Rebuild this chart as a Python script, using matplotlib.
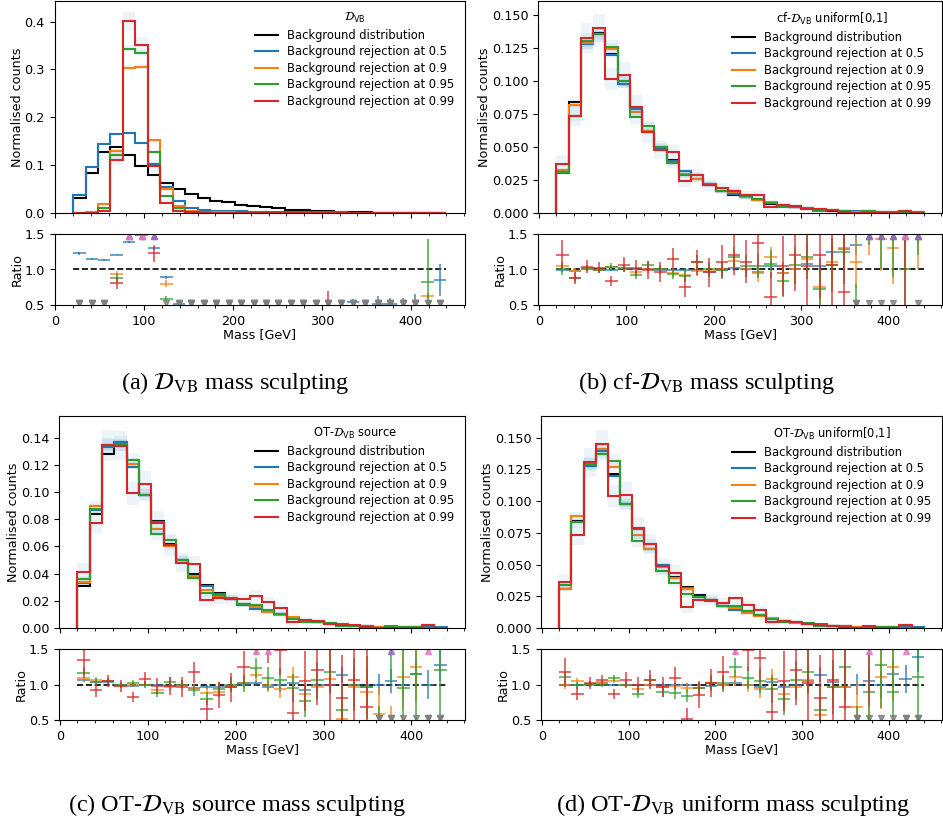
import numpy as np
import matplotlib.pyplot as plt
from matplotlib.ticker import MultipleLocator

plt.rcParams['font.size'] = 9.2

# 30 mass bins of 14 GeV
bins = np.arange(20, 441, 14)
centres = 0.5 * (bins[:-1] + bins[1:])

# normalised background mass distribution (same sample in every panel)
bkg = [0.031, 0.084, 0.128, 0.137, 0.121, 0.098, 0.079, 0.062, 0.050, 0.040,
       0.032, 0.026, 0.022, 0.017, 0.014, 0.012, 0.010, 0.0072, 0.0055, 0.0042,
       0.0032, 0.0025, 0.0018, 0.0013, 0.0010, 0.0008, 0.0006, 0.0005, 0.0004, 0.0003]

levels = [0.5, 0.9, 0.95, 0.99]
colors = ['C0', 'C1', 'C2', 'C3']
up_colors = ['C4', 'C4', 'C4', 'C6']

# ratio (selected / background) per bin, D_VB
vb_r50 = [1.23, 1.15, 1.13, 1.21, 1.39, 1.49, 1.30, 0.89, 0.52, 0.25, 0.17, 0.17, 0.18, 0.20, 0.22,
          0.24, 0.26, 0.30, 0.30, 0.33, 0.38, 0.42, 0.54, 0.45, 0.52, 0.52, 0.49, 0.48, 0.40, 0.85]
vb_r90 = [0.03, 0.03, 0.15, 0.94, 2.51, 3.12, 1.92, 0.80, 0.28, 0.10, 0.06, 0.05, 0.05, 0.05, 0.05,
          0.06, 0.06, 0.07, 0.07, 0.08, 0.09, 0.10, 0.12, 0.15, 0.20, 0.22, 0.25, 0.30, 0.62, 0.45]
vb_r95 = [0.0, 0.01, 0.085, 0.88, 2.84, 3.41, 1.61, 0.58, 0.22, 0.075, 0.04, 0.03, 0.03, 0.03, 0.03,
          0.03, 0.03, 0.03, 0.04, 0.04, 0.04, 0.05, 0.05, 0.06, 0.07, 0.08, 0.10, 0.10, 0.83, 0.10]
vb_r99 = [0.0, 0.0, 0.04, 0.81, 3.31, 3.59, 1.23, 0.35, 0.10, 0.05, 0.02, 0.02, 0.02, 0.02, 0.02,
          0.02, 0.02, 0.02, 0.02, 0.02, 0.25, 0.02, 0.02, 0.02, 0.02, 0.02, 0.02, 0.02, 0.02, 0.0]

vb_e50 = [0.02, 0.015, 0.012, 0.012, 0.012, 0.015, 0.02, 0.02, 0.02, 0.02, 0.02, 0.02, 0.02, 0.025, 0.03,
          0.03, 0.035, 0.04, 0.04, 0.05, 0.05, 0.06, 0.04, 0.06, 0.11, 0.08, 0.11, 0.17, 0.08, 0.23]
vb_e90 = [0.02, 0.02, 0.03, 0.04, 0.04, 0.05, 0.05, 0.05, 0.03, 0.02, 0.02, 0.02, 0.02, 0.02, 0.02,
          0.02, 0.02, 0.03, 0.03, 0.03, 0.04, 0.04, 0.05, 0.06, 0.07, 0.08, 0.10, 0.10, 0.05, 0.12]
vb_e95 = [0.01, 0.01, 0.03, 0.05, 0.06, 0.07, 0.06, 0.04, 0.03, 0.02, 0.02, 0.02, 0.02, 0.02, 0.02,
          0.02, 0.02, 0.02, 0.02, 0.02, 0.02, 0.02, 0.02, 0.03, 0.03, 0.03, 0.04, 0.04, 0.60, 0.05]
vb_e99 = [0.01, 0.01, 0.03, 0.08, 0.16, 0.17, 0.12, 0.08, 0.05, 0.03, 0.02, 0.02, 0.02, 0.02, 0.02,
          0.02, 0.02, 0.02, 0.02, 0.02, 0.45, 0.02, 0.02, 0.02, 0.02, 0.02, 0.02, 0.02, 0.02, 0.01]

# cf-D_VB uniform[0,1]
cf_r50 = [0.99, 0.98, 1.00, 0.99, 0.99, 1.00, 1.00, 1.00, 0.99, 0.99, 0.99, 0.99, 0.97, 0.99, 1.02,
          1.00, 0.96, 1.05, 0.95, 1.00, 1.08, 1.05, 1.25, 1.29, 1.35, 1.60, 1.60, 1.60, 1.55, 1.60]
cf_r90 = [1.05, 0.98, 1.01, 0.99, 1.03, 1.02, 0.97, 1.00, 1.00, 0.95, 0.92, 0.98, 0.98, 1.00, 1.12,
          1.00, 0.95, 1.18, 0.95, 1.00, 1.15, 0.76, 1.11, 1.30, 1.10, 1.60, 1.43, 1.30, 1.60, 1.60]
cf_r95 = [1.00, 0.88, 1.02, 0.99, 1.04, 1.02, 0.92, 1.06, 1.00, 0.94, 0.91, 1.10, 1.00, 0.99, 1.18,
          1.05, 1.05, 1.08, 0.84, 1.06, 1.17, 0.73, 1.07, 1.24, 0.30, 1.90, 1.60, 1.60, 1.00, 2.00]
cf_r99 = [1.21, 0.88, 1.04, 1.025, 0.84, 1.07, 1.02, 0.99, 0.96, 1.15, 0.76, 1.10, 0.96, 1.11, 1.20,
          1.11, 1.37, 0.61, 1.05, 1.20, 1.05, 1.20, 1.07, 0.69, 0.0, 0.0, 0.0, 0.0, 4.50, 0.0]

# OT-D_VB source
ots_r50 = [1.06, 1.03, 1.04, 1.00, 0.98, 1.00, 0.99, 0.98, 1.00, 0.95, 0.97, 0.96, 0.96, 1.00, 1.02,
           0.96, 1.00, 1.02, 0.92, 1.00, 1.00, 1.13, 1.00, 0.97, 1.00, 1.05, 1.00, 1.15, 1.00, 1.27]
ots_r90 = [1.09, 1.07, 1.05, 0.98, 1.00, 1.00, 0.92, 0.97, 1.00, 0.95, 0.88, 0.90, 0.98, 1.02, 1.13,
           1.00, 0.93, 1.11, 0.86, 0.97, 1.08, 0.52, 0.96, 0.90, 0.59, 0.30, 1.11, 1.25, 0.0, 0.0]
ots_r95 = [1.165, 1.04, 1.05, 0.99, 1.02, 1.00, 0.88, 1.04, 1.00, 0.92, 0.80, 0.93, 1.00, 1.02, 1.23,
           1.09, 1.06, 0.95, 0.77, 1.06, 1.18, 0.64, 1.00, 0.96, 0.20, 1.60, 0.95, 1.15, 0.0, 1.21]
ots_r99 = [1.34, 0.92, 1.05, 0.98, 0.82, 1.08, 0.98, 0.98, 0.96, 1.17, 0.65, 0.85, 0.96, 1.24, 1.70,
           1.60, 1.49, 0.60, 1.05, 1.21, 1.00, 0.81, 1.07, 0.69, 0.0, 0.0, 0.0, 0.0, 5.50, 0.0]

# OT-D_VB uniform[0,1]
otu_r50 = [1.00, 0.99, 1.00, 1.02, 0.99, 1.00, 0.99, 1.00, 1.00, 0.99, 0.99, 0.95, 0.98, 1.00, 1.02,
           1.00, 0.96, 1.04, 0.96, 1.00, 1.05, 1.14, 1.03, 0.96, 1.00, 1.05, 1.00, 1.15, 1.08, 1.39]
otu_r90 = [1.00, 1.05, 1.01, 1.03, 1.05, 1.00, 0.93, 1.00, 0.96, 0.98, 0.95, 0.95, 1.02, 1.00, 1.10,
           1.00, 0.93, 1.08, 0.86, 0.97, 1.07, 0.57, 0.96, 0.96, 0.68, 0.30, 1.11, 1.25, 0.0, 0.0]
otu_r95 = [1.10, 0.99, 1.01, 1.00, 1.09, 1.00, 0.87, 1.07, 0.90, 0.88, 0.84, 0.95, 1.02, 1.02, 1.24,
           1.09, 1.05, 0.94, 0.80, 1.07, 1.18, 0.64, 0.97, 1.24, 0.20, 0.90, 1.27, 0.90, 0.0, 1.10]
otu_r99 = [1.17, 0.87, 1.02, 1.06, 0.86, 1.07, 1.00, 1.07, 0.97, 1.09, 0.52, 0.85, 1.02, 1.17, 1.70,
           1.49, 1.38, 0.61, 1.05, 1.21, 1.02, 0.81, 1.06, 0.69, 0.0, 1.70, 0.0, 0.0, 5.50, 0.0]

# ratio uncertainties for the decorrelated taggers
err50 = [0.03, 0.02, 0.015, 0.015, 0.015, 0.02, 0.02, 0.02, 0.025, 0.025, 0.03, 0.03, 0.035, 0.04, 0.045,
         0.05, 0.055, 0.065, 0.075, 0.085, 0.10, 0.11, 0.13, 0.15, 0.15, 0.17, 0.19, 0.20, 0.20, 0.22]
err90 = [0.06, 0.04, 0.035, 0.03, 0.035, 0.04, 0.045, 0.05, 0.055, 0.06, 0.065, 0.07, 0.08, 0.09, 0.10,
         0.11, 0.12, 0.14, 0.16, 0.19, 0.21, 0.24, 0.28, 0.32, 0.36, 0.40, 0.45, 0.50, 0.55, 0.60]
err95 = [0.08, 0.05, 0.045, 0.04, 0.045, 0.05, 0.06, 0.065, 0.07, 0.08, 0.09, 0.10, 0.11, 0.12, 0.14,
         0.15, 0.17, 0.20, 0.23, 0.26, 0.30, 0.34, 0.38, 0.44, 0.50, 0.55, 0.60, 0.70, 0.75, 0.80]
err99 = [0.20, 0.09, 0.09, 0.08, 0.07, 0.10, 0.11, 0.13, 0.14, 0.15, 0.15, 0.18, 0.20, 0.23, 0.28,
         0.30, 0.35, 0.35, 0.42, 0.50, 0.55, 0.60, 0.70, 0.80, 0.90, 1.00, 1.00, 1.10, 4.00, 1.30]

W, H = 943, 821


def rect(x0, y0, x1, y1):
    return [x0 / W, 1 - y1 / H, (x1 - x0) / W, (y1 - y0) / H]


def panel(fig, x0, x1, ytop, title, ratios, errs, ymax, ystep, caption, cap_x, cap_y):
    ax = fig.add_axes(rect(x0, ytop, x1, ytop + 212))
    rax = fig.add_axes(rect(x0, ytop + 233, x1, ytop + 304), sharex=ax)
    b = np.array(bkg)

    ax.stairs(b, bins, color='k', lw=1.5, label='Background distribution')
    for lvl, c, r, e in zip(levels, colors, ratios, errs):
        v = b * np.array(r)
        de = b * np.array(e)
        ax.stairs(v + de, bins, baseline=v - de, fill=True, color='C0', alpha=0.08, lw=0)
        ax.stairs(v, bins, color=c, lw=1.5, label=f'Background rejection at {lvl}')
    ax.set_ylim(0, ymax)
    ax.yaxis.set_major_locator(MultipleLocator(ystep))
    ax.set_xlim(-1, 461)
    ax.set_ylabel('Normalised counts', labelpad=0.5)
    ax.xaxis.set_major_locator(MultipleLocator(20))
    ax.tick_params(labelbottom=False)
    ax.legend(title=title, frameon=False, loc='upper right', fontsize=8.3,
              title_fontsize=8.3, labelspacing=0.3)

    rax.plot([bins[0], bins[-1]], [1, 1], 'k--', lw=1.2)
    for c, uc, r, e in zip(colors, up_colors, ratios, errs):
        r = np.array(r)
        # empty bins get no error bar, only the clipped marker
        e = np.where(r > 0, e, 0.0)
        rax.errorbar(centres, r, xerr=7, yerr=e, fmt='none', ecolor=c, elinewidth=1.2, alpha=0.8)
        hi = r > 1.5
        lo = r < 0.5
        rax.plot(centres[hi], np.full(hi.sum(), 1.475), '^', color=uc, ms=3.8, alpha=0.8)
        rax.plot(centres[lo], np.full(lo.sum(), 0.525), 'v', color='C7', ms=3.8, alpha=0.8)
    rax.set_ylim(0.5, 1.5)
    rax.set_yticks([0.5, 1.0, 1.5])
    rax.xaxis.set_major_locator(MultipleLocator(100))
    rax.xaxis.set_minor_locator(MultipleLocator(20))
    rax.set_xlim(-1, 461)
    rax.set_ylabel('Ratio', labelpad=0.5)
    rax.set_xlabel('Mass [GeV]', labelpad=0)

    fig.text(cap_x / W, 1 - cap_y / H, caption, ha='center', va='center', fontsize=17.5,
             family='Liberation Serif', math_fontfamily='stix')


fig = plt.figure(figsize=(W / 100, H / 100), dpi=100)

panel(fig, 54.5, 465, 1, r'$\mathcal{D}_{\mathrm{VB}}$',
      [vb_r50, vb_r90, vb_r95, vb_r99], [vb_e50, vb_e90, vb_e95, vb_e99], 0.443, 0.1,
      r'(a) $\mathcal{D}_{\mathrm{VB}}$ mass sculpting', 235, 383)
panel(fig, 538, 942, 1, r'cf-$\mathcal{D}_{\mathrm{VB}}$ uniform[0,1]',
      [cf_r50, cf_r90, cf_r95, cf_r99], [err50, err90, err95, err99], 0.161, 0.025,
      r'(b) cf-$\mathcal{D}_{\mathrm{VB}}$ mass sculpting', 706, 383)
panel(fig, 59, 465, 416, r'OT-$\mathcal{D}_{\mathrm{VB}}$ source',
      [ots_r50, ots_r90, ots_r95, ots_r99], [err50, err90, err95, err99], 0.156, 0.02,
      r'(c) OT-$\mathcal{D}_{\mathrm{VB}}$ source mass sculpting', 237, 805)
panel(fig, 541, 942, 416, r'OT-$\mathcal{D}_{\mathrm{VB}}$ uniform[0,1]',
      [otu_r50, otu_r90, otu_r95, otu_r99], [err50, err90, err95, err99], 0.167, 0.025,
      r'(d) OT-$\mathcal{D}_{\mathrm{VB}}$ uniform mass sculpting', 733, 805)

fig.savefig('out.png', dpi=100)
